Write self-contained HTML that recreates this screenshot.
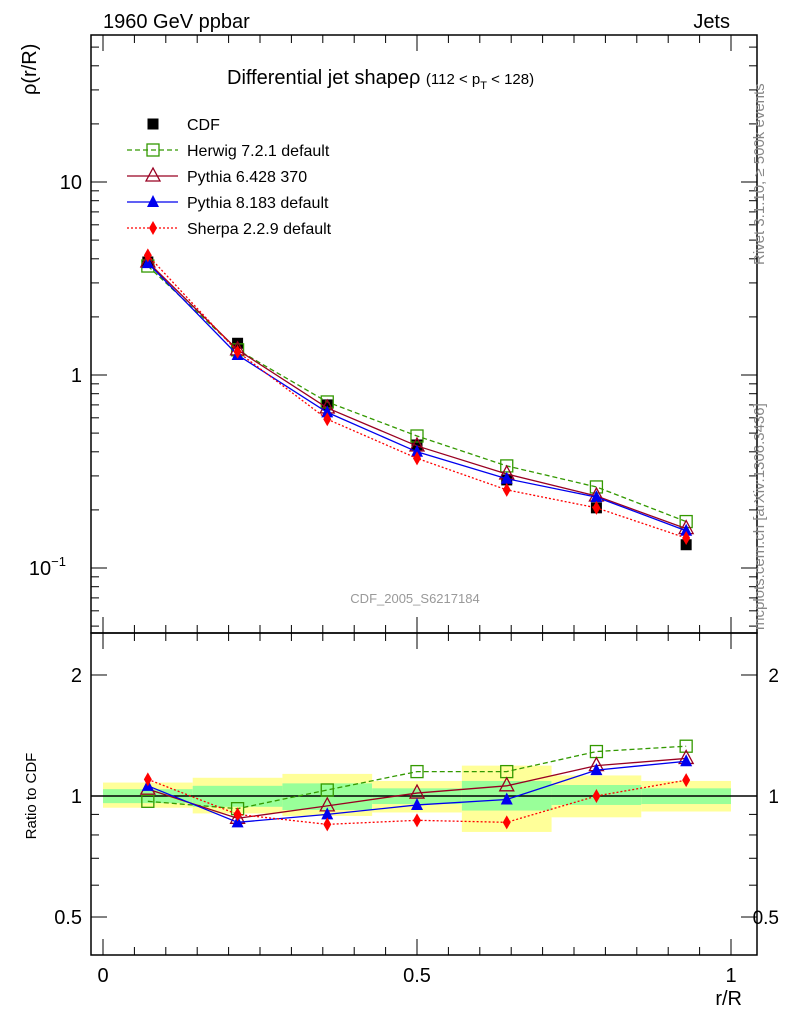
<!DOCTYPE html>
<html><head><meta charset="utf-8"><style>
body{margin:0;background:#fff;}
svg{display:block;font-family:"Liberation Sans",sans-serif;}
</style></head><body>
<svg id="c" width="786" height="1024" viewBox="0 0 786 1024">
<g id="bands"></g>
<g id="frame">
<rect x="91" y="35" width="666" height="598" fill="none" stroke="#000" stroke-width="1.5"/>
<rect x="91" y="633" width="666" height="322" fill="none" stroke="#000" stroke-width="1.5"/>
</g>
<g id="ticks"></g>
<g id="series"></g>
<text x="103" y="28" font-size="20">1960 GeV ppbar</text>
<text x="730" y="28" font-size="20" text-anchor="end">Jets</text>
<text x="227" y="84" font-size="20">Differential jet shapeρ <tspan font-size="15">(112 &lt; p</tspan><tspan font-size="11" dy="5">T</tspan><tspan font-size="15" dy="-5"> &lt; 128)</tspan></text>
<text x="36" y="95" font-size="20" transform="rotate(-90 36 95)" text-anchor="start">ρ(r/R)</text>
<text x="36" y="796" font-size="15" transform="rotate(-90 36 796)" text-anchor="middle">Ratio to CDF</text>
<text x="742" y="1005" font-size="20" text-anchor="end">r/R</text>
<text x="415" y="603" font-size="13" fill="#999" text-anchor="middle">CDF_2005_S6217184</text>
<text x="764" y="265" font-size="15" fill="#888" transform="rotate(-90 764 265)">Rivet 3.1.10, ≥ 500k events</text>
<text x="764" y="630" font-size="15" fill="#888" transform="rotate(-90 764 630)">mcplots.cern.ch [arXiv:1306.3436]</text>
<g id="legend"></g>
</svg>
<script>
const xs=[0.0714,0.2143,0.3571,0.5,0.6429,0.7857,0.9286];
const cdf=[3.85,1.46,0.70,0.434,0.286,0.205,0.132];
const herwig=[3.67,1.35,0.725,0.483,0.338,0.263,0.174];
const py6=[3.85,1.35,0.675,0.429,0.307,0.236,0.16];
const py8=[3.8,1.27,0.64,0.40,0.29,0.233,0.156];
const sherpa=[4.17,1.32,0.59,0.37,0.254,0.205,0.143];
const rHerwig=[0.97,0.93,1.035,1.15,1.15,1.29,1.33];
const rPy6=[1.04,0.88,0.945,1.017,1.06,1.19,1.24];
const rPy8=[1.06,0.86,0.90,0.95,0.98,1.16,1.22];
const rSherpa=[1.10,0.90,0.85,0.87,0.86,1.0,1.095];
const yelLo=[0.935,0.905,0.892,0.91,0.814,0.885,0.915];
const yelHi=[1.08,1.11,1.135,1.09,1.19,1.125,1.09];
const grnLo=[0.96,0.94,0.923,0.955,0.92,0.95,0.955];
const grnHi=[1.04,1.06,1.075,1.045,1.09,1.065,1.045];
const xTicks=[0,0.5,1];const xTickLabels=["0","0.5","1"];
const NS='http://www.w3.org/2000/svg';
const X=v=>103+628*v;
const Y=v=>375-193*Math.log10(v);
const R=v=>796-402*Math.log10(v);
function mk(p,t,a){const e=document.createElementNS(NS,t);for(const k in a)e.setAttribute(k,a[k]);p.appendChild(e);return e;}
const bands=document.getElementById('bands');
for(let i=0;i<7;i++){const x0=X(i/7),w=628/7;
 const y=mk(bands,'rect',{x:x0,y:R(yelHi[i]),width:w,height:R(yelLo[i])-R(yelHi[i]),fill:'#ffff99'});
 
 const g=mk(bands,'rect',{x:x0,y:R(grnHi[i]),width:w,height:R(grnLo[i])-R(grnHi[i]),fill:'#99ff99'});
 }
mk(bands,'line',{x1:91,x2:757,y1:R(1),y2:R(1),stroke:'#000','stroke-width':1.5});
const tk=document.getElementById('ticks');
function tick(y,len){mk(tk,'line',{x1:91,x2:91+len,y1:y,y2:y,stroke:'#000'});mk(tk,'line',{x1:757,x2:757-len,y1:y,y2:y,stroke:'#000'});}
for(let d=-2;d<=1;d++)for(let m=1;m<=9;m++){const v=m*Math.pow(10,d);const y=Y(v);if(y<35||y>633)continue;tick(y,m==1?16:8);}
[0.5,0.6,0.7,0.8,0.9,1,2].forEach(v=>tick(R(v),(v==0.5||v==1||v==2)?16:8));
for(let k=0;k<=20;k++){const x=X(k*0.05);if(x>757)break;const L=k%10==0?16:8;
 mk(tk,'line',{x1:x,x2:x,y1:955,y2:955-L,stroke:'#000'});mk(tk,'line',{x1:x,x2:x,y1:633,y2:633+L,stroke:'#000'});mk(tk,'line',{x1:x,x2:x,y1:633,y2:633-L,stroke:'#000'});mk(tk,'line',{x1:x,x2:x,y1:35,y2:35+L,stroke:'#000'});}
function lbl(x,y,t,a,name,fs){const e=mk(tk,'text',{x:x,y:y,'font-size':fs||20,'text-anchor':a});e.textContent=t;return e;}
xTicks.forEach((v,i)=>lbl(X(v),982,xTickLabels[i],'middle','x-tick-label'));
lbl(82,Y(10)+7,'10','end','y-tick-label');lbl(82,Y(1)+7,'1','end','y-tick-label');
const e=lbl(82,Y(0.1)+7,'10','end','y-tick-label');e.innerHTML='10<tspan font-size="13" dy="-9">−1</tspan>';e.setAttribute('x',66);
[[2,'2'],[1,'1'],[0.5,'0.5']].forEach(([v,t])=>{lbl(82,R(v)+7,t,'end','ratio-tick-label');lbl(779,R(v)+7,t,'end','ratio-tick-label',19);});
const S=document.getElementById('series');
function marker(g,type,x,y,col){
 if(type=='sq')mk(g,'rect',{x:x-6,y:y-6,width:12,height:12,fill:'none',stroke:col,'stroke-width':1.3});
 else if(type=='fsq')mk(g,'rect',{x:x-5.5,y:y-5.5,width:11,height:11,fill:col});
 else if(type=='otri')mk(g,'polygon',{points:`${x},${y-8} ${x-7},${y+5} ${x+7},${y+5}`,fill:'none',stroke:col,'stroke-width':1.3});
 else if(type=='ftri')mk(g,'polygon',{points:`${x},${y-7} ${x-6},${y+5} ${x+6},${y+5}`,fill:col});
 else mk(g,'polygon',{points:`${x},${y-7} ${x-4},${y} ${x},${y+7} ${x+4},${y}`,fill:col});}
function series(vals,fy,col,dash,type,name){const g=mk(S,'g',{});
 if(col){mk(g,'polyline',{points:vals.map((v,i)=>X(xs[i])+','+fy(v)).join(' '),fill:'none',stroke:col,'stroke-width':1.3,'stroke-dasharray':dash});}
 vals.forEach((v,i)=>marker(g,type,X(xs[i]),fy(v),col||'#000'));}
const defs=[[herwig,rHerwig,'#339900','5,3','sq','herwig'],[py6,rPy6,'#990022','','otri','pythia6'],[py8,rPy8,'#0000ee','','ftri','pythia8'],[sherpa,rSherpa,'#ff0000','2,2','dia','sherpa']];
series(cdf,Y,null,'','fsq','cdf-series');
defs.forEach(d=>{series(d[0],Y,d[2],d[3],d[4],d[5]+'-series');series(d[1],R,d[2],d[3],d[4],d[5]+'-ratio-series');});
const L=document.getElementById('legend');
const items=[['CDF',null,'','fsq'],['Herwig 7.2.1 default','#339900','5,3','sq'],['Pythia 6.428 370','#990022','','otri'],['Pythia 8.183 default','#0000ee','','ftri'],['Sherpa 2.2.9 default','#ff0000','2,2','dia']];
items.forEach((it,i)=>{const y=124+26*i;const g=mk(L,'g',{});
 if(it[1])mk(g,'line',{x1:127,x2:178,y1:y,y2:y,stroke:it[1],'stroke-width':1.3,'stroke-dasharray':it[2]});
 marker(g,it[3],153,y,it[1]||'#000');const t=mk(g,'text',{x:187,y:y+6,'font-size':16});t.textContent=it[0];});
</script>
</body></html>
